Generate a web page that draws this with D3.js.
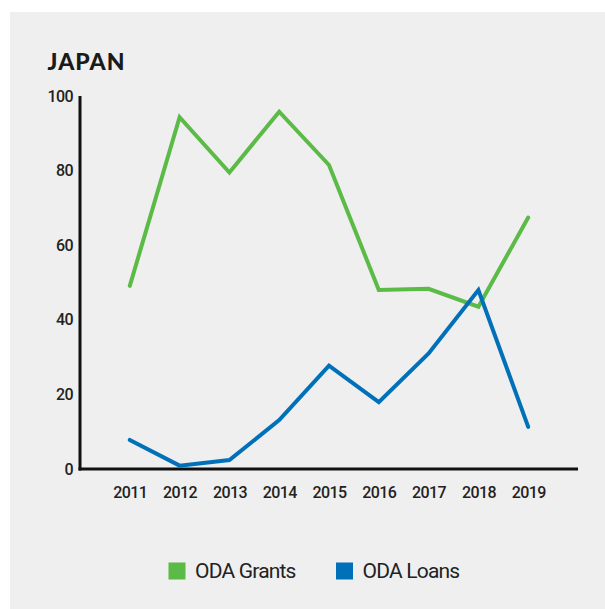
<!DOCTYPE html>
<html>
<head>
<meta charset="utf-8">
<script src="https://cdn.jsdelivr.net/npm/d3@7"></script>
<style>
  html, body { margin: 0; padding: 0; background: #ffffff; }
  svg { display: block; }
</style>
</head>
<body>
<svg id="chart" width="605" height="609"></svg>
<script>
// Japan ODA, grants vs loans, 2011–2019
const years = ["2011", "2012", "2013", "2014", "2015", "2016", "2017", "2018", "2019"];
const grants = [49.1, 94.3, 79.5, 95.8, 81.5, 48.0, 48.3, 43.5, 67.4];
const loans = [7.8, 0.9, 2.4, 13.1, 27.7, 17.9, 31.0, 48.0, 11.3];
const yTicks = [0, 20, 40, 60, 80, 100];
const seriesNames = ["ODA Grants", "ODA Loans"];
const seriesColors = ["#5cba47", "#0071b9"];

const svg = d3.select("#chart");
const labelFont = "Roboto, 'Liberation Sans', sans-serif";

// panel background
svg.append("rect")
  .attr("x", 10).attr("y", 12)
  .attr("width", 595).attr("height", 597)
  .attr("fill", "#efefef");

// title
svg.append("text")
  .attr("x", 47.5).attr("y", 70)
  .attr("font-family", "Lato, 'Open Sans', sans-serif")
  .attr("font-weight", 900)
  .attr("font-size", 23)
  .attr("letter-spacing", 1)
  .attr("fill", "#1a1a1a")
  .text("JAPAN");

const x = d3.scalePoint().domain(years).range([80, 578]).padding(1);
const y = d3.scaleLinear().domain([0, 100]).range([469, 96]);

// y axis
const yAxis = svg.append("g")
  .attr("transform", "translate(80,0)")
  .call(d3.axisLeft(y).tickValues(yTicks).tickSize(0).tickPadding(7));
yAxis.select(".domain").attr("stroke", "#111").attr("stroke-width", 3).attr("d", "M0,96V470.5");
yAxis.selectAll("text")
  .attr("font-family", labelFont)
  .attr("font-weight", 500)
  .attr("font-size", 16)
  .attr("letter-spacing", -0.6)
  .attr("fill", "#222");

// x axis
const xAxis = svg.append("g")
  .attr("transform", "translate(0,469)")
  .call(d3.axisBottom(x).tickSize(0).tickPadding(17.5));
xAxis.select(".domain").attr("stroke", "#111").attr("stroke-width", 3).attr("d", "M78.5,0H578");
xAxis.selectAll("text")
  .attr("font-family", labelFont)
  .attr("font-weight", 500)
  .attr("font-size", 16)
  .attr("letter-spacing", -0.6)
  .attr("fill", "#222");

// series lines
const line = d3.line()
  .x((d, i) => x(years[i]))
  .y(d => y(d));

[grants, loans].forEach((vals, k) => {
  svg.append("path")
    .datum(vals)
    .attr("fill", "none")
    .attr("stroke", seriesColors[k])
    .attr("stroke-width", 4)
    .attr("stroke-linejoin", "miter")
    .attr("stroke-linecap", "round")
    .attr("d", line);
});

// legend
const legendX = [168.5, 336];
seriesNames.forEach((name, k) => {
  const g = svg.append("g").attr("transform", `translate(${legendX[k]},562.5)`);
  g.append("rect")
    .attr("width", 17).attr("height", 17)
    .attr("fill", seriesColors[k]);
  g.append("text")
    .attr("x", 26.5).attr("y", 15.8)
    .attr("font-family", labelFont)
    .attr("font-size", 21)
    .attr("letter-spacing", -0.8)
    .attr("fill", "#222")
    .text(name);
});
</script>
</body>
</html>
